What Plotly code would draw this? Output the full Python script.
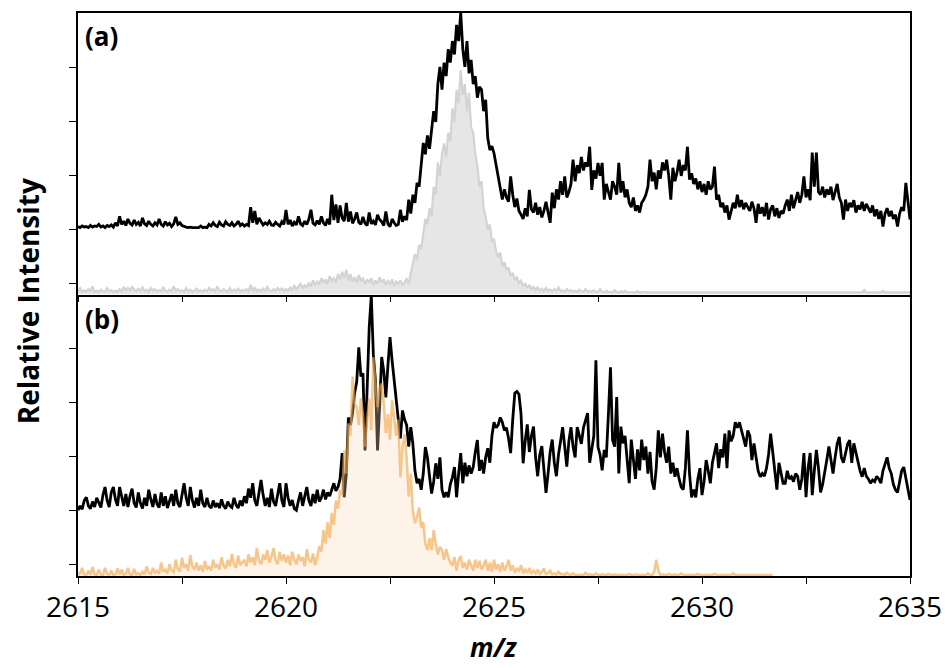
import numpy as np
import plotly.graph_objects as go
from plotly.subplots import make_subplots

# ---------------- data (relative intensity, arbitrary units) ----------------
# m/z sampling grid, 0.05 steps
mz = np.round(2615 + 0.05 * np.arange(401), 2)

# panel (a) – black spectrum
a_black = [
    1.26,1.24,1.27,1.25,1.26,1.24,1.28,1.25,1.27,1.26,1.30,1.25,1.27,1.24,1.28,1.26,1.29,1.25,1.33,1.27,
    1.45,1.30,1.36,1.28,1.40,1.32,1.29,1.38,1.30,1.34,1.27,1.42,1.31,1.28,1.36,1.30,1.27,1.33,1.29,1.40,
    1.30,1.27,1.35,1.29,1.32,1.26,1.31,1.44,1.30,1.33,1.28,1.26,1.25,1.24,1.25,1.24,1.24,1.25,1.24,1.27,
    1.24,1.25,1.24,1.30,1.27,1.33,1.28,1.26,1.34,1.29,1.27,1.35,1.30,1.28,1.33,1.27,1.30,1.36,1.28,1.31,
    1.27,1.30,1.28,1.62,1.33,1.55,1.30,1.42,1.35,1.29,1.33,1.30,1.36,1.29,1.28,1.34,1.30,1.27,1.35,1.30,
    1.57,1.30,1.38,1.27,1.34,1.29,1.45,1.31,1.28,1.36,1.30,1.40,1.57,1.32,1.29,1.37,1.30,1.45,1.33,1.28,
    1.40,1.30,1.85,1.38,1.67,1.33,1.65,1.42,1.36,1.70,1.35,1.54,1.32,1.40,1.52,1.34,1.30,1.44,1.32,1.28,
    1.52,1.31,1.36,1.29,1.48,1.39,1.35,1.28,1.54,1.31,1.26,1.40,1.33,1.28,1.30,1.57,1.35,1.45,1.38,1.76,
    1.50,1.85,1.70,2.07,2.00,2.45,2.81,2.60,2.95,2.70,3.05,3.40,3.20,3.90,4.22,3.80,4.30,4.05,4.55,4.30,
    4.70,4.45,5.00,4.70,5.22,4.55,4.22,4.70,4.10,4.35,3.90,4.05,3.65,3.85,3.80,3.40,3.61,2.90,2.68,2.75,
    2.62,2.40,2.26,2.00,1.76,1.95,1.80,1.72,2.19,1.85,1.62,1.78,1.55,1.48,1.40,1.60,1.45,1.94,1.58,1.52,
    1.70,1.48,1.62,1.43,1.55,1.72,1.50,1.33,1.89,1.60,1.95,1.76,2.10,1.85,2.19,1.80,1.90,2.05,2.50,2.10,
    2.40,2.25,2.55,2.30,2.45,2.37,2.74,1.94,2.30,2.15,2.44,2.20,2.44,1.76,2.05,1.90,1.76,2.10,2.00,1.85,
    2.44,1.89,2.10,1.80,1.95,1.70,1.62,1.80,1.55,1.65,1.52,1.70,1.76,1.85,2.00,2.50,2.10,2.26,1.95,2.30,
    2.15,2.45,2.30,2.50,2.20,1.76,2.35,2.10,2.26,2.50,2.20,2.40,2.30,2.74,2.13,2.25,2.05,2.15,1.95,2.10,
    1.90,2.05,1.85,2.10,1.95,2.00,2.37,1.76,1.85,1.62,1.70,1.52,1.65,1.39,1.55,1.70,1.60,1.85,1.62,1.75,
    1.58,1.70,1.62,1.55,1.72,1.60,1.33,1.68,1.50,1.62,1.45,1.70,1.39,1.58,1.65,1.45,1.60,1.42,1.55,1.50,
    1.65,1.76,1.55,1.85,1.60,1.75,1.90,1.70,1.85,2.19,1.80,1.95,1.75,2.63,2.00,2.63,1.90,1.85,2.00,1.80,
    1.95,1.85,2.00,1.75,1.90,2.05,1.80,1.70,1.39,1.76,1.55,1.70,1.62,1.75,1.52,1.65,1.58,1.72,1.55,1.68,
    1.60,1.52,1.65,1.45,1.58,1.40,1.55,1.26,1.50,1.60,1.45,1.55,1.40,1.48,1.26,1.50,1.62,1.55,2.07,1.70,
    1.39,
]

# panel (a) – grey reference spectrum
a_grey = [
    0.06,0.12,0.05,0.08,0.05,0.10,0.06,0.15,0.05,0.07,0.05,0.09,0.06,0.05,0.12,0.06,0.08,0.05,0.07,0.05,
    0.10,0.06,0.14,0.08,0.12,0.07,0.15,0.09,0.06,0.11,0.07,0.13,0.06,0.09,0.05,0.12,0.07,0.10,0.06,0.08,
    0.06,0.14,0.07,0.05,0.09,0.06,0.15,0.07,0.10,0.06,0.08,0.05,0.12,0.06,0.09,0.05,0.07,0.11,0.06,0.08,
    0.05,0.09,0.06,0.12,0.07,0.10,0.06,0.15,0.08,0.06,0.10,0.07,0.05,0.12,0.06,0.09,0.07,0.11,0.06,0.08,
    0.07,0.10,0.06,0.18,0.08,0.12,0.07,0.09,0.06,0.11,0.07,0.14,0.08,0.06,0.10,0.07,0.12,0.08,0.11,0.07,
    0.10,0.07,0.13,0.09,0.16,0.10,0.14,0.20,0.12,0.17,0.14,0.22,0.15,0.26,0.18,0.24,0.20,0.30,0.22,0.28,
    0.20,0.34,0.25,0.30,0.22,0.38,0.28,0.42,0.30,0.46,0.26,0.38,0.24,0.32,0.22,0.36,0.26,0.30,0.20,0.28,
    0.22,0.30,0.18,0.26,0.20,0.32,0.22,0.28,0.18,0.25,0.20,0.28,0.16,0.24,0.20,0.26,0.18,0.22,0.30,0.20,
    0.40,0.55,0.75,0.65,0.92,0.85,1.15,1.40,1.30,1.60,1.45,2.00,1.85,2.45,2.20,2.60,2.80,2.55,3.00,2.85,
    3.45,3.20,3.80,3.55,4.16,3.70,3.90,3.40,3.74,3.10,3.00,2.60,2.40,2.00,2.10,1.60,1.44,1.20,1.30,1.00,
    1.02,0.80,0.70,0.78,0.52,0.60,0.45,0.50,0.35,0.40,0.28,0.32,0.22,0.26,0.15,0.20,0.12,0.18,0.10,0.14,
    0.08,0.13,0.07,0.11,0.06,0.12,0.07,0.09,0.06,0.10,0.07,0.13,0.06,0.08,0.05,0.10,0.06,0.08,0.05,0.07,
    0.05,0.09,0.06,0.05,0.10,0.05,0.07,0.05,0.08,0.05,0.05,0.10,0.05,0.04,0.07,0.04,0.05,0.04,0.08,0.04,
    0.04,0.06,0.04,0.07,0.04,0.04,0.05,0.04,0.04,0.06,0.04,0.04,0.05,0.04,0.04,0.04,0.05,0.04,0.04,0.04,
    0.04,0.04,0.05,0.04,0.04,0.04,0.04,0.05,0.04,0.04,0.04,0.04,0.04,0.05,0.04,0.04,0.04,0.04,0.04,0.04,
    0.04,0.04,0.04,0.05,0.04,0.04,0.04,0.04,0.04,0.04,0.04,0.05,0.04,0.04,0.04,0.04,0.04,0.04,0.04,0.04,
    0.04,0.04,0.04,0.04,0.04,0.05,0.04,0.04,0.04,0.04,0.04,0.04,0.04,0.04,0.04,0.04,0.05,0.04,0.04,0.04,
    0.04,0.04,0.04,0.04,0.04,0.04,0.04,0.04,0.05,0.04,0.04,0.04,0.04,0.04,0.04,0.04,0.04,0.04,0.04,0.04,
    0.04,0.04,0.04,0.04,0.04,0.04,0.04,0.04,0.04,0.04,0.04,0.04,0.04,0.04,0.04,0.04,0.04,0.04,0.08,0.04,
    0.04,0.04,0.04,0.04,0.04,0.04,0.04,0.07,0.04,0.04,0.04,0.04,0.04,0.04,0.04,0.04,0.04,0.04,0.04,0.04,
    0.04,
]

# panel (b) – black spectrum
b_black = [
    1.22,1.30,1.24,1.40,1.46,1.30,1.25,1.38,1.28,1.45,1.36,1.27,1.50,1.65,1.40,1.28,1.55,1.65,1.42,1.30,
    1.65,1.45,1.30,1.52,1.28,1.48,1.62,1.35,1.27,1.55,1.35,1.25,1.45,1.30,1.60,1.42,1.28,1.52,1.33,1.27,
    1.55,1.30,1.48,1.26,1.40,1.52,1.30,1.60,1.35,1.28,1.50,1.72,1.45,1.30,1.65,1.40,1.27,1.45,1.30,1.60,
    1.35,1.28,1.45,1.30,1.26,1.40,1.28,1.35,1.26,1.42,1.30,1.25,1.38,1.30,1.27,1.45,1.32,1.26,1.40,1.30,
    1.48,1.35,1.62,1.45,1.72,1.40,1.30,1.55,1.78,1.50,1.30,1.45,1.28,1.62,1.38,1.30,1.55,1.72,1.40,1.28,
    1.72,1.45,1.30,1.41,1.25,1.22,1.40,1.55,1.30,1.48,1.65,1.40,1.30,1.52,1.35,1.60,1.38,1.45,1.60,1.42,
    1.55,1.48,1.62,1.72,1.58,1.65,1.80,2.28,1.46,1.90,2.94,2.80,3.02,3.40,3.60,4.24,3.70,3.76,2.33,3.40,
    4.60,5.20,4.10,3.63,2.33,3.13,4.06,3.80,3.31,3.90,4.43,4.00,3.60,3.26,2.90,2.55,3.07,2.90,2.80,2.40,
    2.76,2.45,1.95,1.72,1.80,1.60,1.90,2.39,2.20,1.85,1.53,1.75,2.09,1.80,2.20,1.60,1.46,1.55,1.46,1.70,
    1.83,2.02,1.46,1.90,2.28,1.72,2.10,1.85,2.05,1.90,2.02,2.30,2.52,1.95,2.15,1.90,2.20,2.37,2.10,2.60,
    2.85,2.75,2.80,2.94,2.85,2.70,2.75,2.55,2.28,2.90,3.39,3.42,3.37,3.00,2.09,2.50,2.81,2.30,2.60,2.77,
    2.20,1.85,2.25,2.41,2.00,1.54,1.90,2.30,2.53,2.10,1.85,2.25,2.50,2.76,2.40,2.03,2.50,2.76,2.40,2.20,
    2.76,2.60,2.45,2.75,2.90,3.02,2.10,2.35,2.60,4.00,2.39,2.25,1.96,2.34,2.20,3.00,3.87,2.52,2.40,3.32,
    1.90,2.77,2.46,2.60,2.20,1.72,2.53,2.20,1.80,2.35,1.96,2.53,2.15,2.40,1.90,2.30,1.75,1.60,2.00,2.70,
    2.20,2.64,2.30,2.10,2.40,1.90,2.10,1.84,2.00,1.80,1.65,1.60,2.00,2.70,1.90,1.46,1.60,1.46,1.80,2.00,
    1.50,1.75,2.15,1.95,1.72,2.10,2.30,2.46,2.00,2.35,2.20,2.64,2.00,2.70,2.50,2.60,2.85,2.75,2.85,2.70,
    2.55,2.40,2.70,2.60,2.15,2.46,2.20,1.95,1.84,1.90,1.85,2.00,2.25,2.64,2.30,2.00,1.60,2.10,1.90,1.72,
    1.72,1.95,1.80,1.84,1.75,1.90,1.85,1.60,1.80,2.28,1.46,2.00,2.28,1.50,1.95,2.34,2.00,1.55,1.70,1.90,
    2.15,2.40,2.10,1.90,2.20,2.45,2.58,2.20,2.10,2.30,2.45,2.52,2.10,2.46,2.30,2.10,1.95,1.84,2.00,1.85,
    1.80,1.72,1.78,1.75,1.85,1.80,1.72,1.95,2.10,2.20,2.00,1.90,1.70,1.60,1.55,1.75,1.95,2.02,1.80,1.55,
    1.41,
]

# panel (b) – orange reference spectrum (recorded up to m/z 2631.7)
b_orange = [
    0.02,0.05,0.15,0.03,0.02,0.10,0.02,0.17,0.03,0.02,0.12,0.03,0.02,0.15,0.04,0.02,0.10,0.02,0.03,0.14,
    0.03,0.12,0.02,0.04,0.15,0.03,0.02,0.13,0.03,0.05,0.02,0.08,0.03,0.18,0.06,0.04,0.15,0.05,0.10,0.04,
    0.25,0.08,0.12,0.05,0.22,0.10,0.07,0.30,0.12,0.08,0.34,0.15,0.22,0.10,0.39,0.18,0.12,0.25,0.10,0.20,
    0.08,0.28,0.12,0.18,0.10,0.30,0.15,0.22,0.12,0.35,0.20,0.14,0.30,0.18,0.41,0.22,0.15,0.38,0.20,0.25,
    0.30,0.18,0.40,0.25,0.35,0.20,0.52,0.28,0.22,0.40,0.30,0.48,0.25,0.36,0.52,0.30,0.22,0.45,0.28,0.40,
    0.25,0.38,0.20,0.45,0.30,0.22,0.40,0.28,0.35,0.18,0.50,0.30,0.25,0.42,0.20,0.35,0.55,0.45,0.85,0.60,
    1.00,0.70,1.17,0.95,1.40,1.25,1.60,1.50,2.33,1.90,2.83,2.60,3.70,3.20,3.13,2.80,3.30,3.00,2.40,2.90,
    3.30,2.70,4.06,3.60,3.13,3.50,3.57,3.20,2.65,3.00,2.53,3.26,2.95,2.60,2.90,1.83,2.40,2.63,2.20,1.47,
    1.90,1.20,0.98,1.10,1.27,0.90,1.00,0.60,0.48,0.70,0.48,0.85,0.60,0.40,0.54,0.48,0.30,0.50,0.35,0.25,
    0.19,0.35,0.10,0.30,0.37,0.15,0.25,0.12,0.30,0.20,0.10,0.30,0.15,0.28,0.12,0.20,0.30,0.10,0.25,0.08,
    0.30,0.12,0.22,0.08,0.25,0.10,0.18,0.30,0.10,0.20,0.06,0.15,0.08,0.20,0.05,0.12,0.06,0.15,0.04,0.10,
    0.05,0.12,0.04,0.08,0.14,0.04,0.06,0.10,0.03,0.05,0.03,0.08,0.03,0.04,0.02,0.06,0.03,0.02,0.05,0.02,
    0.02,0.03,0.02,0.02,0.06,0.02,0.03,0.02,0.02,0.05,0.02,0.02,0.03,0.02,0.02,0.04,0.02,0.02,0.03,0.02,
    0.02,0.03,0.02,0.02,0.02,0.04,0.02,0.02,0.03,0.02,0.02,0.02,0.03,0.02,0.05,0.02,0.02,0.08,0.30,0.10,
    0.02,0.03,0.02,0.02,0.04,0.02,0.02,0.03,0.02,0.02,0.05,0.02,0.02,0.02,0.03,0.02,0.02,0.02,0.04,0.02,
    0.02,0.02,0.03,0.02,0.02,0.02,0.04,0.02,0.02,0.02,0.02,0.03,0.02,0.02,0.02,0.05,0.02,0.02,0.02,0.02,
    0.02,0.02,0.03,0.02,0.02,0.02,0.02,0.03,0.02,0.02,0.02,0.02,0.02,0.02,0.02,
]
mz_orange = mz[:len(b_orange)]

x_tickvals = [2615, 2617.5, 2620, 2622.5, 2625, 2627.5, 2630, 2632.5, 2635]
x_ticktext = ["2615", "", "2620", "", "2625", "", "2630", "", "2635"]
y_tickvals = [0.21, 1.21, 2.21, 3.21, 4.21]

# ---------------- figure ----------------
fig = make_subplots(rows=2, cols=1, shared_xaxes=True, vertical_spacing=0)

fig.add_trace(go.Scatter(x=mz, y=a_grey, mode="lines", fill="tozeroy",
                         fillcolor="#e6e6e6", line=dict(color="#d3d3d3", width=2.2)),
              row=1, col=1)
fig.add_trace(go.Scatter(x=mz, y=a_black, mode="lines",
                         line=dict(color="black", width=2.8)), row=1, col=1)

fig.add_trace(go.Scatter(x=mz, y=b_black, mode="lines",
                         line=dict(color="black", width=2.8)), row=2, col=1)
fig.add_trace(go.Scatter(x=mz_orange, y=b_orange, mode="lines", fill="tozeroy",
                         fillcolor="rgba(250,215,180,0.3)",
                         line=dict(color="rgba(241,166,76,0.62)", width=2.5)),
              row=2, col=1)

font_family = "Open Sans, Liberation Sans, sans-serif"
xcommon = dict(range=[2615, 2635], tickvals=x_tickvals, ticktext=x_ticktext,
               ticks="outside", ticklen=6, tickwidth=1.3, tickcolor="black",
               showline=True, linecolor="black", linewidth=1.6,
               showgrid=False, zeroline=False, automargin=False,
               tickfont=dict(family=font_family, size=28, color="black"))
fig.update_xaxes(**xcommon)
fig.update_xaxes(showticklabels=False, mirror=True, row=1, col=1)
fig.update_xaxes(showticklabels=True, mirror=False, row=2, col=1)

fig.update_yaxes(range=[0, 5.22], tickvals=y_tickvals, showticklabels=False,
                 ticks="outside", ticklen=7, tickwidth=1.3, tickcolor="black",
                 showline=True, linecolor="black", linewidth=1.6, mirror=True,
                 showgrid=False, zeroline=False, automargin=False)

annots = [
    dict(text="<b>(a)</b>", x=0.006, y=0.960, xanchor="left", yanchor="middle",
         font=dict(size=26)),
    dict(text="<b>(b)</b>", x=0.006, y=0.456, xanchor="left", yanchor="middle",
         font=dict(size=26)),
    dict(text="<b>Relative Intensity</b>", x=-0.060, y=0.488, textangle=-90,
         xanchor="center", yanchor="middle", font=dict(size=28)),
    dict(text="<b><i>m/z</i></b>", x=0.499, y=-0.126, xanchor="center",
         yanchor="middle", font=dict(size=26)),
]
for a in annots:
    a.update(xref="paper", yref="paper", showarrow=False)
    a["font"].update(family=font_family, color="black")

fig.update_layout(width=945, height=668, showlegend=False, autosize=False,
                  margin=dict(l=78, r=35, t=13, b=92, autoexpand=False),
                  plot_bgcolor="white", paper_bgcolor="white",
                  annotations=annots)

fig.write_html("out.html")
